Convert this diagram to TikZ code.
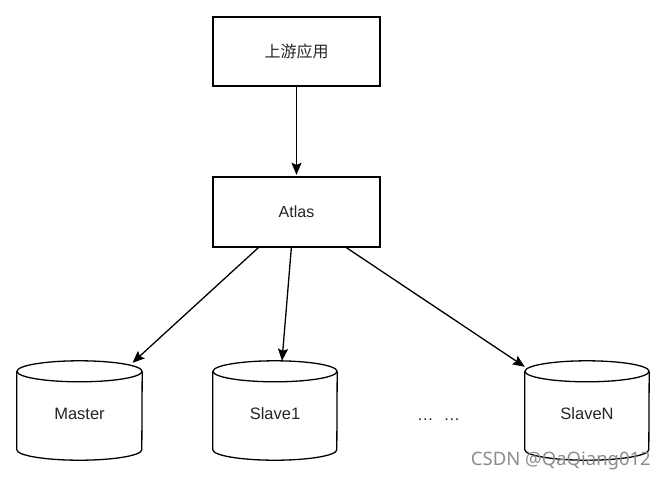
\documentclass[tikz,border=0pt]{standalone}
\usepackage{fontspec}
\setmainfont{Liberation Sans}
\newfontfamily\cjk{Noto Sans CJK SC}
\newfontfamily\wmfont{Noto Sans}
\usetikzlibrary{arrows.meta,calc}
\begin{document}
\begin{tikzpicture}[x=1pt,y=1pt,
  lw/.style={line width=1.3pt,draw=black},
  boxnode/.style={lw,minimum width=167pt,minimum height=69pt,inner sep=0pt,font=\fontsize{16}{18}\selectfont,text=black!85},
  dbnode/.style={minimum width=124pt,minimum height=99pt,inner sep=0pt,font=\fontsize{16.5}{18}\selectfont,text=black!85},
  arr/.style={lw,-{Stealth[length=12pt,width=10pt,inset=2pt]}}]
\useasboundingbox (0,0) rectangle (666,-479);
\fill[white] (0,0) rectangle (666,-479);
\node[boxnode] (top) at (296.5,-51.5) {\cjk 上游应用};
\node[boxnode,minimum height=70pt] (atlas) at (296.5,-212) {Atlas};
\node[dbnode,minimum width=125pt] (m) at (79.5,-410.5) {};
\node[dbnode] (s1) at (275,-410.5) {};
\node[dbnode] (sn) at (587,-410.5) {};
\foreach \n/\rx in {m/62.5,s1/62,sn/62}{
  \draw[lw] ($(\n.north west)+(0,-10.5)$) -- ($(\n.south west)+(0,10.5)$)
     arc[start angle=180,end angle=360,x radius=\rx pt,y radius=10.5pt]
     -- ($(\n.north east)+(0,-10.5)$);
  \draw[lw] ($(\n.north)+(0,-10.5)$) ellipse[x radius=\rx pt,y radius=10.5pt];
}
\node[font=\fontsize{16.5}{18}\selectfont,text=black!85] (mt) at ($(m.center)+(0,-3)$) {Master};
\node[font=\fontsize{16.5}{18}\selectfont,text=black!85] (s1t) at ($(s1.center)+(0,-3)$) {Slave1};
\node[font=\fontsize{16.5}{18}\selectfont,text=black!85] (snt) at ($(sn.center)+(0,-3)$) {SlaveN};
\node[font=\fontsize{16.5}{18}\selectfont,text=black!85,anchor=base] (dots) at (438.5,-420) {…\hspace{10pt}…};
\coordinate (a1) at ($(atlas.south west)+(46,0)$);
\coordinate (a2) at ($(atlas.south west)+(79,0)$);
\coordinate (a3) at ($(atlas.south west)+(134,0)$);
\coordinate (t1) at ($(m.north)+(53,-2)$);
\coordinate (t2) at ($(s1.north)+(7,0)$);
\coordinate (t3) at ($(sn.north west)+(0,-6)$);
\draw[arr,shorten >=1.5pt] (top.south) -- (atlas.north);
\draw[arr] (a1) -- (t1);
\draw[arr] (a2) -- (t2);
\draw[arr] (a3) -- (t3);
\node[anchor=base east,font=\wmfont\fontsize{18.5}{20}\selectfont,text=black!45,inner sep=0pt] (wm) at (651,-465) {CSDN @QaQiang012};
\end{tikzpicture}
\end{document}
